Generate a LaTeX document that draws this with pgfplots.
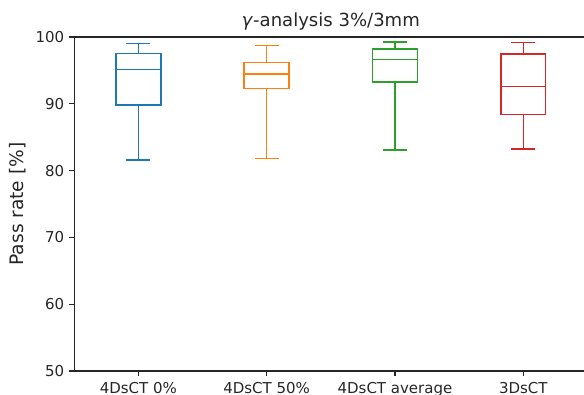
\documentclass[border=0pt]{standalone}
\usepackage{fontspec}
\setmainfont{DejaVu Sans}
\usepackage{pgfplots}
\pgfplotsset{compat=1.18}
\definecolor{c1}{HTML}{1F77B4}
\definecolor{c2}{HTML}{FF7F0E}
\definecolor{c3}{HTML}{2CA02C}
\definecolor{c4}{HTML}{D62728}
\definecolor{txt}{HTML}{262626}
\begin{document}
\begin{tikzpicture}
\begin{axis}[
  at={(0,0)}, anchor=south west,
  scale only axis,
  width=369.6pt, height=240.5pt,
  xmin=0.5, xmax=4.5, ymin=50, ymax=100,
  xtick={1,2,3,4},
  xticklabels={4DsCT 0\%, 4DsCT 50\%, 4DsCT average, 3DsCT},
  ytick={50,60,70,80,90,100},
  tick align=outside, xtick pos=bottom, ytick pos=left,
  major tick length=3.5pt,
  tick style={line width=0.8pt, txt},
  axis line style={line width=0.8pt, txt},
  /pgf/number format/assume math mode=true,
  tick label style={font=\fontsize{10.8}{13}\selectfont, text=txt},
  xticklabel style={inner sep=0pt, anchor=north, yshift=-4.8pt},
  yticklabel style={inner sep=0pt, anchor=east, xshift=-3.5pt},
  ylabel={Pass rate [\%]},
  ylabel style={font=\fontsize{13.4}{16}\selectfont, text=txt, at={(axis description cs:-0.1096,0.5)}, anchor=center, rotate=0},
  title={\textit{γ}-analysis 3\%/3mm},
  every axis title shift=0pt,
  title style={font=\fontsize{13}{16}\selectfont, text=txt, at={(axis description cs:0.5,1)}, anchor=south, inner sep=0pt, yshift=4.3pt},
  unbounded coords=jump,
  every axis plot/.append style={line width=1.05pt, line cap=rect, line join=miter, mark=none},
]
% box 1: 4DsCT 0%  (lw 81.6, q1 89.8, med 95.1, q3 97.55, uw 99.0)
\addplot[c1] coordinates {
 (0.825,89.8) (1.175,89.8) (1.175,97.55) (0.825,97.55) (0.825,89.8) (1,nan)
 (0.825,95.1) (1.175,95.1) (1,nan)
 (1,89.8) (1,81.6) (1,nan)
 (0.9125,81.6) (1.0875,81.6) (1,nan)
 (1,97.55) (1,99.0) (1,nan)
 (0.9125,99.0) (1.0875,99.0)
};
% box 2: 4DsCT 50%  (lw 81.8, q1 92.25, med 94.45, q3 96.15, uw 98.7)
\addplot[c2] coordinates {
 (1.825,92.25) (2.175,92.25) (2.175,96.15) (1.825,96.15) (1.825,92.25) (2,nan)
 (1.825,94.45) (2.175,94.45) (2,nan)
 (2,92.25) (2,81.8) (2,nan)
 (1.9125,81.8) (2.0875,81.8) (2,nan)
 (2,96.15) (2,98.7) (2,nan)
 (1.9125,98.7) (2.0875,98.7)
};
% box 3: 4DsCT average  (lw 83.1, q1 93.25, med 96.6, q3 98.2, uw 99.25)
\addplot[c3] coordinates {
 (2.825,93.25) (3.175,93.25) (3.175,98.2) (2.825,98.2) (2.825,93.25) (3,nan)
 (2.825,96.6) (3.175,96.6) (3,nan)
 (3,93.25) (3,83.1) (3,nan)
 (2.9125,83.1) (3.0875,83.1) (3,nan)
 (3,98.2) (3,99.25) (3,nan)
 (2.9125,99.25) (3.0875,99.25)
};
% box 4: 3DsCT  (lw 83.2, q1 88.4, med 92.6, q3 97.45, uw 99.2)
\addplot[c4] coordinates {
 (3.825,88.4) (4.175,88.4) (4.175,97.45) (3.825,97.45) (3.825,88.4) (4,nan)
 (3.825,92.6) (4.175,92.6) (4,nan)
 (4,88.4) (4,83.2) (4,nan)
 (3.9125,83.2) (4.0875,83.2) (4,nan)
 (4,97.45) (4,99.2) (4,nan)
 (3.9125,99.2) (4.0875,99.2)
};
\end{axis}
\pgfresetboundingbox
\useasboundingbox (-53.4pt,-17.28pt) rectangle (367.1pt,267.1pt);
\end{tikzpicture}
\end{document}
